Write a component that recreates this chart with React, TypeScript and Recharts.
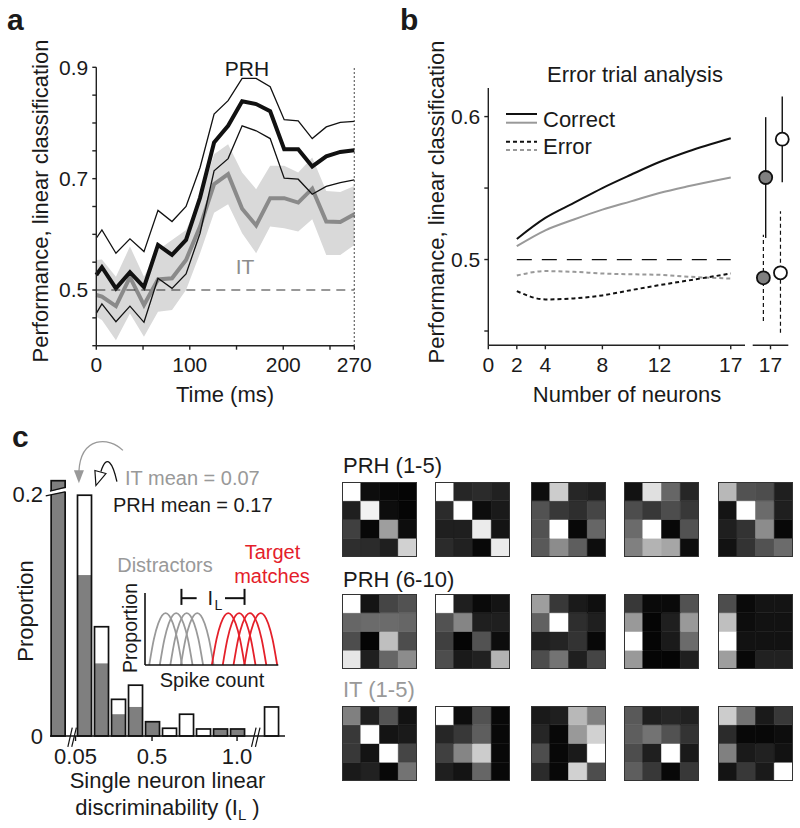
import React from "react";
import {
  Area,
  Bar,
  BarChart,
  Cell,
  ComposedChart,
  ErrorBar,
  Line,
  ReferenceDot,
  ReferenceLine,
  Scatter,
  XAxis,
  YAxis,
} from "recharts";

const FONT = '"Liberation Sans", Arial, Helvetica, sans-serif';
const INK = "#1a1a1a";
const GRAY = "#8c8c8c";

// ---- panel a: decoding over time ----
const timeMs = [0, 6, 21, 36, 51, 66, 81, 96, 111, 126, 141, 156, 171, 186, 201, 216, 231, 246, 261, 276];
const prhMean = [0.527, 0.541, 0.503, 0.532, 0.505, 0.581, 0.563, 0.59, 0.666, 0.765, 0.795, 0.839, 0.834, 0.821, 0.753, 0.753, 0.722, 0.74, 0.748, 0.751];
const prhHi = [0.593, 0.608, 0.566, 0.592, 0.569, 0.643, 0.623, 0.65, 0.72, 0.816, 0.84, 0.88, 0.88, 0.865, 0.806, 0.804, 0.772, 0.793, 0.801, 0.803];
const prhLo = [0.458, 0.475, 0.443, 0.471, 0.442, 0.521, 0.503, 0.529, 0.602, 0.714, 0.736, 0.795, 0.786, 0.772, 0.701, 0.699, 0.672, 0.686, 0.693, 0.698];
const itMean = [0.491, 0.488, 0.471, 0.523, 0.473, 0.519, 0.521, 0.554, 0.614, 0.69, 0.708, 0.646, 0.616, 0.665, 0.665, 0.657, 0.682, 0.623, 0.622, 0.636];
const itHi = [0.554, 0.555, 0.524, 0.578, 0.524, 0.572, 0.59, 0.608, 0.663, 0.744, 0.762, 0.711, 0.681, 0.723, 0.723, 0.711, 0.738, 0.678, 0.676, 0.687];
const itLo = [0.452, 0.446, 0.41, 0.458, 0.416, 0.461, 0.464, 0.5, 0.566, 0.639, 0.654, 0.602, 0.566, 0.614, 0.611, 0.605, 0.627, 0.563, 0.563, 0.581];
const timeTicks = [0, 50, 100, 150, 200, 250, 276];
const perfTicksA = [0.4, 0.45, 0.5, 0.55, 0.6, 0.65, 0.7, 0.75, 0.8, 0.85, 0.9];

// ---- panel b: error trial analysis ----
const neurons = [2, 4, 6, 8, 10, 12, 14, 17];
const prhCorrect = [0.5144, 0.5291, 0.5396, 0.55, 0.5593, 0.5682, 0.5756, 0.5849];
const itCorrect = [0.5093, 0.5204, 0.528, 0.5349, 0.5407, 0.5465, 0.5512, 0.5574];
const prhError = [0.4779, 0.4721, 0.4728, 0.4749, 0.4786, 0.4821, 0.4853, 0.4902];
const itError = [0.4888, 0.4919, 0.4914, 0.4902, 0.4897, 0.4893, 0.488, 0.4867];
const neuronTicks = [0, 2, 4, 8, 12, 17];
const perfTicksB = [0.45, 0.5, 0.55, 0.6];
// the 17-neuron summary points (x is a small offset around 17 so they do not overlap)
const sideItCorrect = { x: 16.73, y: 0.5574, lo: 0.5151, hi: 0.5996 };
const sidePrhCorrect = { x: 17.66, y: 0.5842, lo: 0.554, hi: 0.614 };
const sideItError = { x: 16.6, y: 0.4872, lo: 0.457, hi: 0.5174 };
const sidePrhError = { x: 17.56, y: 0.4907, lo: 0.4488, hi: 0.5337 };

// ---- panel c: histogram of single neuron discriminability ----
const binCenters = [-0.055, 0.1, 0.2, 0.3, 0.4, 0.5, 0.6, 0.7, 0.8, 0.9, 1.0, 1.2];
const itProportion = [0.211, 0.133, 0.06, 0.018, 0.024, 0.0118, 0, 0, 0, 0.0058, 0.0058, 0];
const prhProportion = [0, 0.199, 0.0903, 0.0303, 0.042, 0.006, 0.0064, 0.018, 0.0058, 0, 0, 0.024];
const itMeanIL = 0.07;
const prhMeanIL = 0.17;

// inset: schematic spike count distributions
const archProfileX = [0, 0.42, 0.81, 1.475, 2.14, 2.53, 2.95];
const archProfileY = [0, 0.5, 0.8, 1, 0.8, 0.5, 0];
const distractorStarts = [0.38, 1.33, 2.28, 3.23];
const targetStarts = [6.02, 7.0, 7.97, 8.95];

// 4x4 selectivity matrices (brightness 0 = black, 1 = white)
const prh1to5 = [
  [[1.0, 0.05, 0.03, 0.02], [0.12, 0.95, 0.05, 0.02], [0.25, 0.03, 0.62, 0.05], [0.18, 0.17, 0.12, 0.82]],
  [[1.0, 0.15, 0.17, 0.13], [0.17, 1.0, 0.05, 0.1], [0.12, 0.12, 0.92, 0.08], [0.17, 0.13, 0.03, 0.92]],
  [[0.05, 0.8, 0.15, 0.12], [0.32, 0.22, 0.18, 0.27], [0.32, 1.0, 0.03, 0.4], [0.35, 0.55, 0.37, 0.05]],
  [[0.07, 0.88, 0.4, 0.15], [0.3, 0.22, 0.3, 0.22], [0.42, 1.0, 0.03, 0.32], [0.5, 0.7, 0.65, 0.05]],
  [[0.72, 0.32, 0.3, 0.12], [0.08, 1.0, 0.42, 0.12], [0.12, 0.2, 0.55, 0.03], [0.07, 0.2, 0.32, 0.42]],
];
const prh6to10 = [
  [[1.0, 0.08, 0.27, 0.32], [0.4, 0.42, 0.42, 0.4], [0.3, 0.02, 0.75, 0.3], [0.9, 0.12, 0.4, 0.55]],
  [[1.0, 0.12, 0.04, 0.08], [0.32, 0.52, 0.12, 0.12], [0.25, 0.02, 0.32, 0.05], [0.3, 0.1, 0.13, 0.7]],
  [[0.62, 0.22, 0.1, 0.06], [0.38, 1.0, 0.18, 0.12], [0.12, 0.14, 0.2, 0.03], [0.3, 0.45, 0.12, 0.27]],
  [[0.22, 0.04, 0.04, 0.32], [0.6, 0.02, 0.12, 0.6], [1.0, 0.02, 0.1, 0.42], [0.6, 0.02, 0.02, 0.12]],
  [[0.3, 0.04, 0.08, 0.08], [0.75, 0.05, 0.07, 0.07], [1.0, 0.07, 0.07, 0.07], [0.62, 0.03, 0.13, 0.13]],
];
const it1to5 = [
  [[0.5, 0.12, 0.33, 0.07], [0.22, 1.0, 0.08, 0.1], [0.22, 0.08, 1.0, 0.27], [0.1, 0.13, 0.03, 0.45]],
  [[1.0, 0.05, 0.32, 0.03], [0.15, 0.22, 0.37, 0.03], [0.25, 0.52, 0.8, 0.03], [0.12, 0.08, 0.4, 0.03]],
  [[0.1, 0.12, 0.72, 0.5], [0.15, 0.03, 0.6, 0.82], [0.3, 0.03, 0.1, 1.0], [0.17, 0.03, 0.82, 0.3]],
  [[0.35, 0.12, 0.15, 0.13], [0.37, 0.45, 0.32, 0.2], [0.3, 0.12, 1.0, 0.1], [0.37, 0.22, 0.03, 0.22]],
  [[0.8, 0.45, 0.1, 0.22], [0.17, 0.03, 0.03, 0.05], [0.5, 0.1, 0.13, 0.07], [0.08, 0.22, 0.1, 1.0]],
];

const timeData = timeMs.map((t, i) => ({
  t,
  prhMean: prhMean[i],
  prhHi: prhHi[i],
  prhLo: prhLo[i],
  itMean: itMean[i],
  itBand: [itLo[i], itHi[i]],
}));

const neuronData = neurons.map((n, i) => ({
  n,
  prhCorrect: prhCorrect[i],
  itCorrect: itCorrect[i],
  prhError: prhError[i],
  itError: itError[i],
}));

const histData = binCenters.map((x, i) => ({
  x,
  it: itProportion[i],
  prh: prhProportion[i],
  top: Math.max(itProportion[i], prhProportion[i]),
}));

const archLine = (start: number) =>
  archProfileX.map((dx, i) => ({ x: start + dx, y: archProfileY[i] }));

const sidePoint = (p: any) => ({ x: p.x, y: p.y, err: [p.y - p.lo, p.hi - p.y] });

const tickStyle = (size: number) => ({ fill: INK, fontSize: size, fontFamily: FONT });
const axisStyle = { stroke: "#222", strokeWidth: 1.4 };

function HistBar(props: any) {
  const { x, y, width, height, payload } = props;
  if (!payload.top || !height) return null;
  const pxPerUnit = height / payload.top;
  const base = y + height;
  const hPrh = payload.prh * pxPerUnit;
  const hIt = payload.it * pxPerUnit;
  return (
    <g>
      {hPrh > 0 && <rect x={x} y={base - hPrh} width={width} height={hPrh} fill="#ffffff" />}
      {hIt > 0 && <rect x={x} y={base - hIt} width={width} height={hIt} fill="#7f7f7f" />}
      <rect x={x} y={y} width={width} height={height} fill="none" stroke="#111" strokeWidth={1.7} />
    </g>
  );
}

function ItArrow(props: any) {
  const { cx, cy } = props;
  return (
    <g>
      <path d={`M${cx + 44},${cy - 33} C${cx + 30},${cy - 47} ${cx + 2},${cy - 47} ${cx},${cy - 12}`} fill="none" stroke="#999" strokeWidth={1.3} />
      <polygon points={`${cx - 5},${cy - 13} ${cx + 5},${cy - 13} ${cx},${cy}`} fill="#999" />
    </g>
  );
}

function PrhArrow(props: any) {
  const { cx, cy } = props;
  return (
    <g>
      <path d={`M${cx + 21},${cy - 4} C${cx + 17},${cy - 22} ${cx + 11},${cy - 33} ${cx + 5},${cy - 14}`} fill="none" stroke="#111" strokeWidth={1.3} />
      <polygon points={`${cx - 1},${cy - 15} ${cx + 10},${cy - 12} ${cx},${cy}`} fill="#fff" stroke="#111" strokeWidth={1.2} />
    </g>
  );
}

function SideDot(fill: string) {
  return (props: any) => <circle cx={props.cx} cy={props.cy} r={6.5} fill={fill} stroke="#111" strokeWidth={1.8} />;
}

const grayOf = (b: number) => {
  const v = Math.round(Math.max(0, Math.min(1, b)) * 255);
  return `rgb(${v},${v},${v})`;
};

function Heatmap({ m, left, top }: { m: number[][]; left: number; top: number }) {
  const cols = [0, 1, 2, 3].map((c) => ({ col: c, r0: 1, r1: 1, r2: 1, r3: 1 }));
  return (
    <div style={{ position: "absolute", left, top, width: 75, height: 75 }}>
      <BarChart width={75} height={75} data={cols} margin={{ top: 0, right: 0, bottom: 0, left: 0 }} barCategoryGap={0} barGap={0}>
        <XAxis dataKey="col" hide />
        <YAxis hide domain={[0, 4]} />
        {[3, 2, 1, 0].map((r) => (
          <Bar key={r} dataKey={`r${r}`} stackId="s" isAnimationActive={false}>
            {cols.map((d) => (
              <Cell key={d.col} fill={grayOf(m[r][d.col])} stroke={grayOf(m[r][d.col])} strokeWidth={0.5} />
            ))}
          </Bar>
        ))}
      </BarChart>
      <div style={{ position: "absolute", left: 0, top: 0, width: 75, height: 75, boxSizing: "border-box", border: "1.5px solid #333" }} />
    </div>
  );
}

const heatLefts = [342, 435, 531, 624, 718];

export default function App() {
  return (
    <div style={{ position: "absolute", left: 0, top: 0, width: 800, height: 828, background: "#fff", fontFamily: FONT, overflow: "hidden" }}>
      {/* panel a */}
      <div style={{ position: "absolute", left: 0, top: 0 }}>
        <ComposedChart width={380} height={420} data={timeData} margin={{ top: 67.3, right: 25.7, bottom: 44.3, left: 46.3 }}>
          <XAxis
            dataKey="t"
            type="number"
            domain={[0, 276]}
            ticks={timeTicks}
            tickFormatter={(v: number) => (v === 276 ? "270" : v % 100 === 0 ? String(v) : "")}
            height={30}
            tickSize={4}
            tickMargin={7}
            axisLine={axisStyle}
            tickLine={axisStyle}
            tick={tickStyle(21)}
            interval={0}
          />
          <YAxis
            type="number"
            domain={[0.4, 0.9]}
            ticks={perfTicksA}
            tickFormatter={(v: number) => ([0.5, 0.7, 0.9].some((k) => Math.abs(k - v) < 1e-6) ? v.toFixed(1) : "")}
            width={50}
            tickSize={4}
            tickMargin={4}
            axisLine={axisStyle}
            tickLine={axisStyle}
            tick={tickStyle(21)}
            interval={0}
          />
          <Area dataKey="itBand" type="linear" stroke="none" fill="#d9d9d9" fillOpacity={1} isAnimationActive={false} />
          <Line dataKey="itMean" type="linear" stroke="#8a8a8a" strokeWidth={4} dot={false} isAnimationActive={false} />
          <Line dataKey="prhHi" type="linear" stroke="#111" strokeWidth={1.3} dot={false} isAnimationActive={false} />
          <Line dataKey="prhLo" type="linear" stroke="#111" strokeWidth={1.3} dot={false} isAnimationActive={false} />
          <Line dataKey="prhMean" type="linear" stroke="#111" strokeWidth={4} dot={false} isAnimationActive={false} />
          <ReferenceLine segment={[{ x: 0, y: 0.5 }, { x: 276, y: 0.5 }]} stroke="#333" strokeWidth={1.2} strokeDasharray="9 6" />
          <ReferenceLine x={276} stroke="#333" strokeWidth={1.2} strokeDasharray="1.5 2.5" />
        </ComposedChart>
      </div>

      {/* panel b, main axis */}
      <div style={{ position: "absolute", left: 400, top: 0 }}>
        <ComposedChart width={350} height={420} data={neuronData} margin={{ top: 88, right: 5, bottom: 44.7, left: 38.3 }}>
          <XAxis
            dataKey="n"
            type="number"
            domain={[0, 18]}
            ticks={neuronTicks}
            height={30}
            tickSize={4}
            tickMargin={8}
            axisLine={axisStyle}
            tickLine={axisStyle}
            tick={tickStyle(21)}
            interval={0}
          />
          <YAxis
            type="number"
            domain={[0.44, 0.62]}
            ticks={perfTicksB}
            tickFormatter={(v: number) => ([0.5, 0.6].some((k) => Math.abs(k - v) < 1e-6) ? v.toFixed(1) : "")}
            width={50}
            tickSize={4}
            tickMargin={4}
            axisLine={axisStyle}
            tickLine={axisStyle}
            tick={tickStyle(21)}
            interval={0}
          />
          <ReferenceLine segment={[{ x: 2, y: 0.5 }, { x: 17, y: 0.5 }]} stroke="#111" strokeWidth={1.3} strokeDasharray="15 10" />
          <Line dataKey="itError" type="monotone" stroke="#999" strokeWidth={2} strokeDasharray="4 3" dot={false} isAnimationActive={false} />
          <Line dataKey="prhError" type="monotone" stroke="#111" strokeWidth={2} strokeDasharray="4 3" dot={false} isAnimationActive={false} />
          <Line dataKey="itCorrect" type="monotone" stroke="#999" strokeWidth={2} dot={false} isAnimationActive={false} />
          <Line dataKey="prhCorrect" type="monotone" stroke="#111" strokeWidth={2} dot={false} isAnimationActive={false} />
        </ComposedChart>
      </div>

      {/* panel b, 17-neuron summary axis */}
      <div style={{ position: "absolute", left: 750, top: 0 }}>
        <ComposedChart width={50} height={420} margin={{ top: 88, right: 11.7, bottom: 44.7, left: 2.7 }}>
          <XAxis
            dataKey="x"
            type="number"
            domain={[16, 18]}
            ticks={[17]}
            height={30}
            tickSize={4}
            tickMargin={8}
            axisLine={axisStyle}
            tickLine={axisStyle}
            tick={tickStyle(21)}
            interval={0}
          />
          <YAxis hide type="number" domain={[0.44, 0.62]} />
          <Scatter data={[sidePoint(sideItError)]} dataKey="y" shape={SideDot("#808080")} isAnimationActive={false}>
            <ErrorBar dataKey="err" direction="y" width={0} stroke="#111" strokeWidth={1.2} strokeDasharray="4 3" />
          </Scatter>
          <Scatter data={[sidePoint(sidePrhError)]} dataKey="y" shape={SideDot("#ffffff")} isAnimationActive={false}>
            <ErrorBar dataKey="err" direction="y" width={0} stroke="#111" strokeWidth={1.2} strokeDasharray="4 3" />
          </Scatter>
          <Scatter data={[sidePoint(sideItCorrect)]} dataKey="y" shape={SideDot("#808080")} isAnimationActive={false}>
            <ErrorBar dataKey="err" direction="y" width={0} stroke="#111" strokeWidth={1.4} />
          </Scatter>
          <Scatter data={[sidePoint(sidePrhCorrect)]} dataKey="y" shape={SideDot("#ffffff")} isAnimationActive={false}>
            <ErrorBar dataKey="err" direction="y" width={0} stroke="#111" strokeWidth={1.4} />
          </Scatter>
        </ComposedChart>
      </div>

      {/* panel c, histogram */}
      <div style={{ position: "absolute", left: 0, top: 420 }}>
        <ComposedChart width={300} height={408} data={histData} margin={{ top: 49.8, right: 15, bottom: 62, left: 5 }}>
          <XAxis
            dataKey="x"
            type="number"
            domain={[-0.1, 1.282]}
            ticks={[0.05, 0.5, 1.0]}
            tickFormatter={(v: number) => (v === 0.05 ? "0.05" : v.toFixed(1))}
            height={30}
            tickSize={5}
            tickMargin={7}
            axisLine={{ stroke: "#111", strokeWidth: 1.6 }}
            tickLine={{ stroke: "#111", strokeWidth: 1.4 }}
            tick={tickStyle(22)}
            interval={0}
          />
          <YAxis
            type="number"
            domain={[0, 0.22]}
            ticks={[0, 0.2]}
            tickFormatter={(v: number) => (v === 0 ? "0" : v.toFixed(1))}
            width={45}
            tickSize={0}
            tickMargin={7}
            axisLine={false}
            tickLine={false}
            tick={tickStyle(22)}
            interval={0}
          />
          <Bar dataKey="top" barSize={14} shape={<HistBar />} isAnimationActive={false} />
          {/* axis break on the first (truncated) bar */}
          <ReferenceLine ifOverflow="visible" segment={[{ x: -0.115, y: 0.2003 }, { x: -0.005, y: 0.2036 }]} stroke="#fff" strokeWidth={3.5} />
          <ReferenceLine ifOverflow="visible" segment={[{ x: -0.125, y: 0.1985 }, { x: -0.012, y: 0.2018 }]} stroke="#111" strokeWidth={1.2} />
          <ReferenceLine ifOverflow="visible" segment={[{ x: -0.1, y: 0.2024 }, { x: -0.012, y: 0.2055 }]} stroke="#111" strokeWidth={1.2} />
          {/* x-axis breaks */}
          <ReferenceLine ifOverflow="visible" segment={[{ x: 0.012, y: 0 }, { x: 0.048, y: 0 }]} stroke="#fff" strokeWidth={3} />
          <ReferenceLine ifOverflow="visible" segment={[{ x: 0.005, y: -0.009 }, { x: 0.031, y: 0.007 }]} stroke="#111" strokeWidth={1.2} />
          <ReferenceLine ifOverflow="visible" segment={[{ x: 0.028, y: -0.009 }, { x: 0.055, y: 0.007 }]} stroke="#111" strokeWidth={1.2} />
          <ReferenceLine ifOverflow="visible" segment={[{ x: 1.094, y: 0 }, { x: 1.128, y: 0 }]} stroke="#fff" strokeWidth={3} />
          <ReferenceLine ifOverflow="visible" segment={[{ x: 1.085, y: -0.009 }, { x: 1.112, y: 0.007 }]} stroke="#111" strokeWidth={1.2} />
          <ReferenceLine ifOverflow="visible" segment={[{ x: 1.108, y: -0.009 }, { x: 1.135, y: 0.007 }]} stroke="#111" strokeWidth={1.2} />
          {/* population means */}
          <ReferenceDot x={itMeanIL} y={0.2088} ifOverflow="visible" shape={ItArrow} />
          <ReferenceDot x={prhMeanIL} y={0.207} ifOverflow="visible" shape={PrhArrow} />
        </ComposedChart>
      </div>

      {/* panel c, inset */}
      <div style={{ position: "absolute", left: 140, top: 585 }}>
        <ComposedChart width={145} height={85} margin={{ top: 8, right: 6.7, bottom: 4, left: 4 }}>
          <XAxis dataKey="x" type="number" domain={[0, 12]} height={1} tick={false} tickLine={false} axisLine={{ stroke: "#111", strokeWidth: 1.6 }} />
          <YAxis type="number" domain={[0, 1.39]} width={1} tick={false} tickLine={false} axisLine={{ stroke: "#111", strokeWidth: 1.6 }} />
          {distractorStarts.map((s) => (
            <Line key={`d${s}`} data={archLine(s)} dataKey="y" type="monotone" stroke="#999" strokeWidth={1.8} dot={false} isAnimationActive={false} />
          ))}
          {targetStarts.map((s) => (
            <Line key={`t${s}`} data={archLine(s)} dataKey="y" type="monotone" stroke="#e4202a" strokeWidth={1.8} dot={false} isAnimationActive={false} />
          ))}
          <ReferenceLine ifOverflow="visible" segment={[{ x: 3.28, y: 1.29 }, { x: 4.65, y: 1.29 }]} stroke="#111" strokeWidth={2} />
          <ReferenceLine ifOverflow="visible" segment={[{ x: 7.2, y: 1.29 }, { x: 8.96, y: 1.29 }]} stroke="#111" strokeWidth={2} />
          <ReferenceLine ifOverflow="visible" segment={[{ x: 3.28, y: 1.16 }, { x: 3.28, y: 1.47 }]} stroke="#111" strokeWidth={2} />
          <ReferenceLine ifOverflow="visible" segment={[{ x: 8.96, y: 1.16 }, { x: 8.96, y: 1.47 }]} stroke="#111" strokeWidth={2} />
        </ComposedChart>
      </div>

      {/* panel c, selectivity matrices */}
      {prh1to5.map((m, i) => (
        <Heatmap key={`a${i}`} m={m} left={heatLefts[i]} top={482} />
      ))}
      {prh6to10.map((m, i) => (
        <Heatmap key={`b${i}`} m={m} left={heatLefts[i]} top={594} />
      ))}
      {it1to5.map((m, i) => (
        <Heatmap key={`c${i}`} m={m} left={heatLefts[i]} top={706} />
      ))}

      {/* text and legend */}
      <svg width={800} height={828} style={{ position: "absolute", left: 0, top: 0, pointerEvents: "none" }} fontFamily={FONT} fill={INK}>
        <text x={7} y={30} fontSize={30} fontWeight="bold">a</text>
        <text x={400} y={30} fontSize={30} fontWeight="bold">b</text>
        <text x={12} y={447} fontSize={30} fontWeight="bold">c</text>

        <text transform="translate(48,201) rotate(-90)" textAnchor="middle" fontSize={22}>Performance, linear classification</text>
        <text x={247} y={76} textAnchor="middle" fontSize={21}>PRH</text>
        <text x={245} y={274} textAnchor="middle" fontSize={21} fill={GRAY}>IT</text>
        <text x={225} y={402} textAnchor="middle" fontSize={22}>Time (ms)</text>

        <text transform="translate(443.5,202) rotate(-90)" textAnchor="middle" fontSize={22}>Performance, linear classification</text>
        <text x={635} y={81.5} textAnchor="middle" fontSize={22}>Error trial analysis</text>
        <line x1={506} y1={114} x2={537} y2={114} stroke="#111" strokeWidth={2} />
        <line x1={506} y1={122.7} x2={537} y2={122.7} stroke="#999" strokeWidth={2} />
        <line x1={506} y1={141.7} x2={537} y2={141.7} stroke="#111" strokeWidth={2} strokeDasharray="4 3" />
        <line x1={506} y1={150} x2={537} y2={150} stroke="#999" strokeWidth={2} strokeDasharray="4 3" />
        <text x={543} y={126.7} fontSize={22}>Correct</text>
        <text x={543} y={154} fontSize={22}>Error</text>
        <text x={627} y={402} textAnchor="middle" fontSize={22}>Number of neurons</text>

        <text x={125} y={484.5} fontSize={20} fill="#999">IT mean = 0.07</text>
        <text x={113} y={511.5} fontSize={20}>PRH mean = 0.17</text>
        <text transform="translate(32.5,611) rotate(-90)" textAnchor="middle" fontSize={22}>Proportion</text>
        <text x={165} y={571.5} textAnchor="middle" fontSize={20} fill="#999">Distractors</text>
        <text x={272.5} y={559.3} textAnchor="middle" fontSize={20} fill="#e4202a">Target</text>
        <text x={272} y={583.3} textAnchor="middle" fontSize={20} fill="#e4202a">matches</text>
        <text x={207.5} y={605} fontSize={20}>I</text>
        <text x={214.5} y={610} fontSize={14}>L</text>
        <text transform="translate(137,628) rotate(-90)" textAnchor="middle" fontSize={19.5}>Proportion</text>
        <text x={212} y={687} textAnchor="middle" fontSize={20}>Spike count</text>
        <text x={167.5} y={788} textAnchor="middle" fontSize={22}>Single neuron linear</text>
        <text x={167.5} y={815} textAnchor="middle" fontSize={22}>
          discriminability (I<tspan fontSize={15} dy={5}>L</tspan><tspan dy={-5}> )</tspan>
        </text>

        <text x={343} y={473.3} fontSize={22}>PRH (1-5)</text>
        <text x={343} y={586.5} fontSize={22}>PRH (6-10)</text>
        <text x={343} y={697.3} fontSize={22} fill="#999">IT (1-5)</text>
      </svg>
    </div>
  );
}
